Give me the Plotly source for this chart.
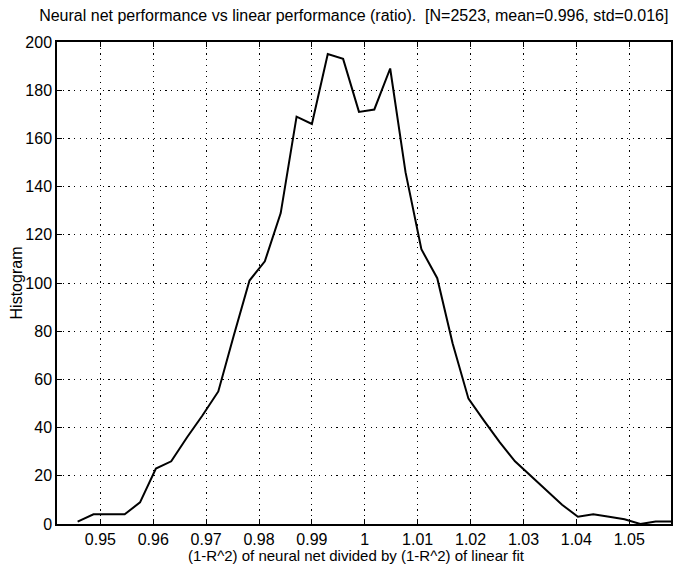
import plotly.graph_objects as go

ratio = [0.9457, 0.9487, 0.9516, 0.9546, 0.9575, 0.9605, 0.9634, 0.9664, 0.9693, 0.9723,
         0.9752, 0.9782, 0.9811, 0.9841, 0.9871, 0.9900, 0.9930, 0.9959, 0.9989, 1.0018,
         1.0048, 1.0077, 1.0107, 1.0137, 1.0166, 1.0196, 1.0225, 1.0255, 1.0284, 1.0314,
         1.0343, 1.0373, 1.0403, 1.0432, 1.0462, 1.0491, 1.0521, 1.0550, 1.0579]
counts = [1, 4, 4, 4, 9, 23, 26, 36, 45, 55,
          78, 101, 109, 129, 169, 166, 195, 193, 171, 172,
          189, 146, 114, 102, 75, 52, 43, 34, 26, 20,
          14, 8, 3, 4, 3, 2, 0, 1, 1]

x_ticks = [0.95, 0.96, 0.97, 0.98, 0.99, 1.0, 1.01, 1.02, 1.03, 1.04, 1.05]
x_tick_text = ["0.95", "0.96", "0.97", "0.98", "0.99", "1", "1.01", "1.02", "1.03", "1.04", "1.05"]
y_ticks = [0, 20, 40, 60, 80, 100, 120, 140, 160, 180, 200]

title_text = "Neural net performance vs linear performance (ratio).  [N=2523, mean=0.996, std=0.016]"
x_title = "(1-R^2) of neural net divided by (1-R^2) of linear fit"
y_title = "Histogram"

font_family = "Liberation Sans, Arial, Helvetica, sans-serif"

fig = go.Figure()
fig.add_trace(go.Scatter(x=ratio, y=counts, mode="lines",
                         line=dict(color="black", width=2), showlegend=False))

axis_common = dict(
    showline=True, linecolor="black", linewidth=1.5, mirror="ticks",
    ticks="inside", ticklen=5, tickcolor="black", tickwidth=1.2,
    showgrid=True, gridcolor="black", gridwidth=1.2, griddash="1.2px,4.5px",
    zeroline=False, automargin=False,
    tickfont=dict(family=font_family, size=16, color="black"),
)

fig.update_layout(
    width=682, height=559,
    margin=dict(l=49, r=19, t=34, b=43),
    paper_bgcolor="white", plot_bgcolor="white",
    font=dict(family=font_family, color="black"),
    title=dict(text=title_text, x=0.507, xanchor="center", y=0.987, yanchor="middle",
               font=dict(family=font_family, size=16, color="black")),
    xaxis=dict(range=[0.9418, 1.0579], tickvals=x_ticks, ticktext=x_tick_text,
               **axis_common),
    yaxis=dict(range=[0, 200], tickvals=y_ticks,
               title=dict(text=y_title, standoff=2, font=dict(family=font_family, size=16)),
               **axis_common),
    annotations=[dict(text=x_title, xref="paper", yref="paper", x=0.487, y=-0.066,
                      xanchor="center", yanchor="middle", showarrow=False,
                      font=dict(family=font_family, size=15, color="black"))],
)

fig.write_html("out.html")
